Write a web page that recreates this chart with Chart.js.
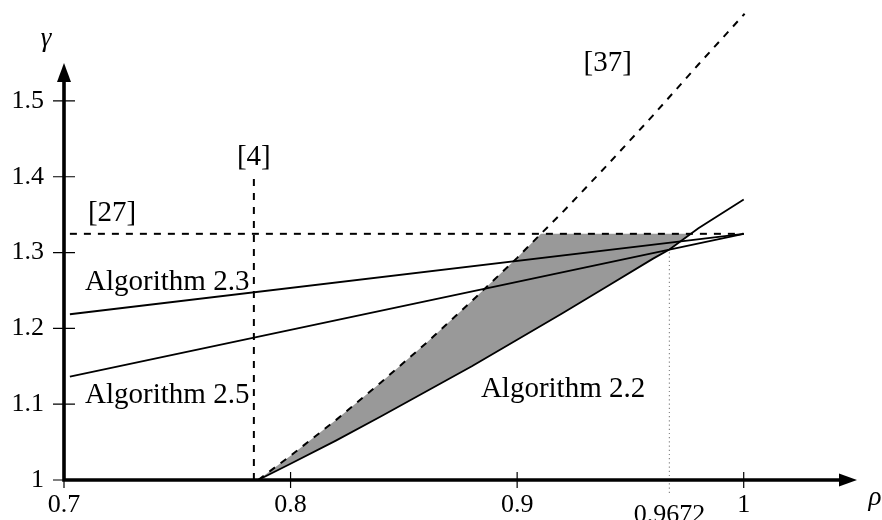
<!DOCTYPE html>
<html>
<head>
<meta charset="utf-8">
<script src="https://cdn.jsdelivr.net/npm/chart.js@4/dist/chart.umd.min.js"></script>
<style>
  html, body { margin: 0; padding: 0; background: #ffffff; }
  #wrap { width: 882px; height: 520px; }
</style>
</head>
<body>
<div id="wrap"><canvas id="RegionChart" width="882" height="520"></canvas></div>
<script>
(function () {
  "use strict";

  // curve from [37] (dashed)
  const rho37   = [0.7857, 0.80, 0.82, 0.84, 0.86, 0.88, 0.90, 0.9105, 0.92, 0.94, 0.96, 0.98, 1.0004];
  const gamma37 = [1.000, 1.032, 1.079, 1.129, 1.181, 1.236, 1.293, 1.3247, 1.353, 1.416, 1.481, 1.548, 1.615];

  // Algorithm 2.2
  const rho22   = [0.7857, 0.80, 0.82, 0.84, 0.86, 0.88, 0.90, 0.92, 0.94, 0.96, 0.9672, 0.98, 1.0];
  const gamma22 = [1.000, 1.0215, 1.052, 1.084, 1.117, 1.150, 1.185, 1.220, 1.256, 1.292, 1.304, 1.332, 1.370];

  // Algorithm 2.3 and 2.5
  const rho23   = [0.7026, 1.0];
  const gamma23 = [1.2186, 1.3247];
  const rho25   = [0.7026, 1.0];
  const gamma25 = [1.1363, 1.3247];

  // bounds from [27] and [4]
  const rho27   = [0.7026, 1.0];
  const gamma27 = [1.3247, 1.3247];
  const rho4    = [0.7838, 0.7838];
  const gamma4  = [1.0, 1.398];

  // dotted marker at 0.9672
  const rhoMark   = [0.9672, 0.9672];
  const gammaMark = [0.983, 1.304];

  // upper edge of the shaded region (filled down to Algorithm 2.2)
  const rhoShade   = [0.7857, 0.80, 0.82, 0.84, 0.86, 0.88, 0.90, 0.9105, 0.9767];
  const gammaShade = [1.000, 1.032, 1.079, 1.129, 1.181, 1.236, 1.293, 1.3247, 1.3247];

  // axes
  const xTicks      = [0.7, 0.8, 0.9, 1];
  const xTickLabels = ['0.7', '0.8', '0.9', '1'];
  const yTicks      = [1, 1.1, 1.2, 1.3, 1.4, 1.5];
  const yTickLabels = ['1', '1.1', '1.2', '1.3', '1.4', '1.5'];
  const markLabel   = '0.9672';

  const labels = [
    { text: '[37]',          x: 0.940,  y: 1.550, align: 'center' },
    { text: '[4]',           x: 0.7838, y: 1.426, align: 'center' },
    { text: '[27]',          x: 0.7212, y: 1.352, align: 'center' },
    { text: 'Algorithm 2.3', x: 0.7093, y: 1.2507, align: 'left', base: true },
    { text: 'Algorithm 2.5', x: 0.7093, y: 1.1016, align: 'left', base: true },
    { text: 'Algorithm 2.2', x: 0.884,  y: 1.1095, align: 'left', base: true }
  ];

  const serif = '"Liberation Serif", "DejaVu Serif", serif';

  function pts(xs, ys) {
    return xs.map(function (x, i) { return { x: x, y: ys[i] }; });
  }

  function lineSet(xs, ys, dash, width, color) {
    return {
      data: pts(xs, ys),
      showLine: true,
      borderColor: color || '#000000',
      borderWidth: width,
      borderDash: dash,
      pointRadius: 0,
      fill: false,
      clip: false,
      tension: 0
    };
  }

  // draws the arrow axes, tick marks and all text
  const axesPlugin = {
    id: 'arrowAxes',
    afterDatasetsDraw: function (chart) {
      const ctx = chart.ctx;
      const xs = chart.scales.x;
      const ys = chart.scales.y;
      const x0 = xs.getPixelForValue(0.7);
      const y0 = ys.getPixelForValue(1);
      const xEnd = xs.getPixelForValue(1.05);
      const yEnd = ys.getPixelForValue(1.55);

      ctx.save();
      ctx.strokeStyle = '#000000';
      ctx.fillStyle = '#000000';
      ctx.setLineDash([]);

      // axis lines
      ctx.lineWidth = 3.6;
      ctx.beginPath();
      ctx.moveTo(x0 - 1.8, y0);
      ctx.lineTo(xEnd - 15, y0);
      ctx.moveTo(x0, y0 + 1.8);
      ctx.lineTo(x0, yEnd + 15);
      ctx.stroke();

      // arrow heads
      ctx.beginPath();
      ctx.moveTo(xEnd, y0);
      ctx.lineTo(xEnd - 18, y0 - 6.5);
      ctx.lineTo(xEnd - 18, y0 + 6.5);
      ctx.closePath();
      ctx.fill();
      ctx.beginPath();
      ctx.moveTo(x0, yEnd);
      ctx.lineTo(x0 - 7, yEnd + 19);
      ctx.lineTo(x0 + 7, yEnd + 19);
      ctx.closePath();
      ctx.fill();

      // tick marks
      ctx.lineWidth = 1.2;
      ctx.beginPath();
      xTicks.forEach(function (v) {
        const px = xs.getPixelForValue(v);
        ctx.moveTo(px, y0 - 8);
        ctx.lineTo(px, y0 + 8);
      });
      yTicks.forEach(function (v) {
        const py = ys.getPixelForValue(v);
        ctx.moveTo(x0 - 11, py);
        ctx.lineTo(x0 + 11, py);
      });
      ctx.stroke();

      // tick labels
      ctx.font = '26px ' + serif;
      ctx.textBaseline = 'middle';
      ctx.textAlign = 'center';
      xTicks.forEach(function (v, i) {
        ctx.fillText(xTickLabels[i], xs.getPixelForValue(v), y0 + 25);
      });
      ctx.fillText(markLabel, xs.getPixelForValue(rhoMark[0]), y0 + 35);
      ctx.textAlign = 'right';
      yTicks.forEach(function (v, i) {
        ctx.fillText(yTickLabels[i], x0 - 20, ys.getPixelForValue(v));
      });

      // axis names
      ctx.font = 'italic 27px ' + serif;
      ctx.textAlign = 'center';
      ctx.fillText('γ', x0 - 18, yEnd - 24);
      ctx.fillText('ρ', xEnd + 18, y0 + 18);

      // curve labels
      ctx.font = '29px ' + serif;
      labels.forEach(function (l) {
        ctx.textAlign = l.align;
        ctx.textBaseline = l.base ? 'alphabetic' : 'middle';
        ctx.fillText(l.text, xs.getPixelForValue(l.x), ys.getPixelForValue(l.y));
      });
      ctx.restore();
    }
  };

  const shade = lineSet(rhoShade, gammaShade, [], 0);
  shade.fill = { target: 1 };
  shade.backgroundColor = '#999999';
  shade.borderColor = 'rgba(0,0,0,0)';

  const chart_region = document.getElementById('RegionChart');
  const ctr = chart_region.getContext('2d');

  new Chart(ctr, {
    type: 'scatter',
    data: {
      datasets: [
        shade,
        lineSet(rho22, gamma22, [], 1.8),
        lineSet(rho37, gamma37, [7, 7], 2),
        lineSet(rho23, gamma23, [], 1.8),
        lineSet(rho25, gamma25, [], 1.8),
        lineSet(rho27, gamma27, [7, 7], 2),
        lineSet(rho4, gamma4, [7, 7], 2),
        lineSet(rhoMark, gammaMark, [1.2, 3], 1.2, '#8a8a8a')
      ]
    },
    options: {
      responsive: false,
      animation: false,
      layout: {
        padding: { left: 64, right: 25, top: 63, bottom: 40 }
      },
      scales: {
        x: { type: 'linear', min: 0.7, max: 1.05, display: false },
        y: { type: 'linear', min: 1, max: 1.55, display: false }
      },
      plugins: {
        legend: { display: false },
        tooltip: { enabled: false },
        filler: { drawTime: 'beforeDatasetsDraw' }
      }
    },
    plugins: [axesPlugin]
  });
})();
</script>
</body>
</html>
